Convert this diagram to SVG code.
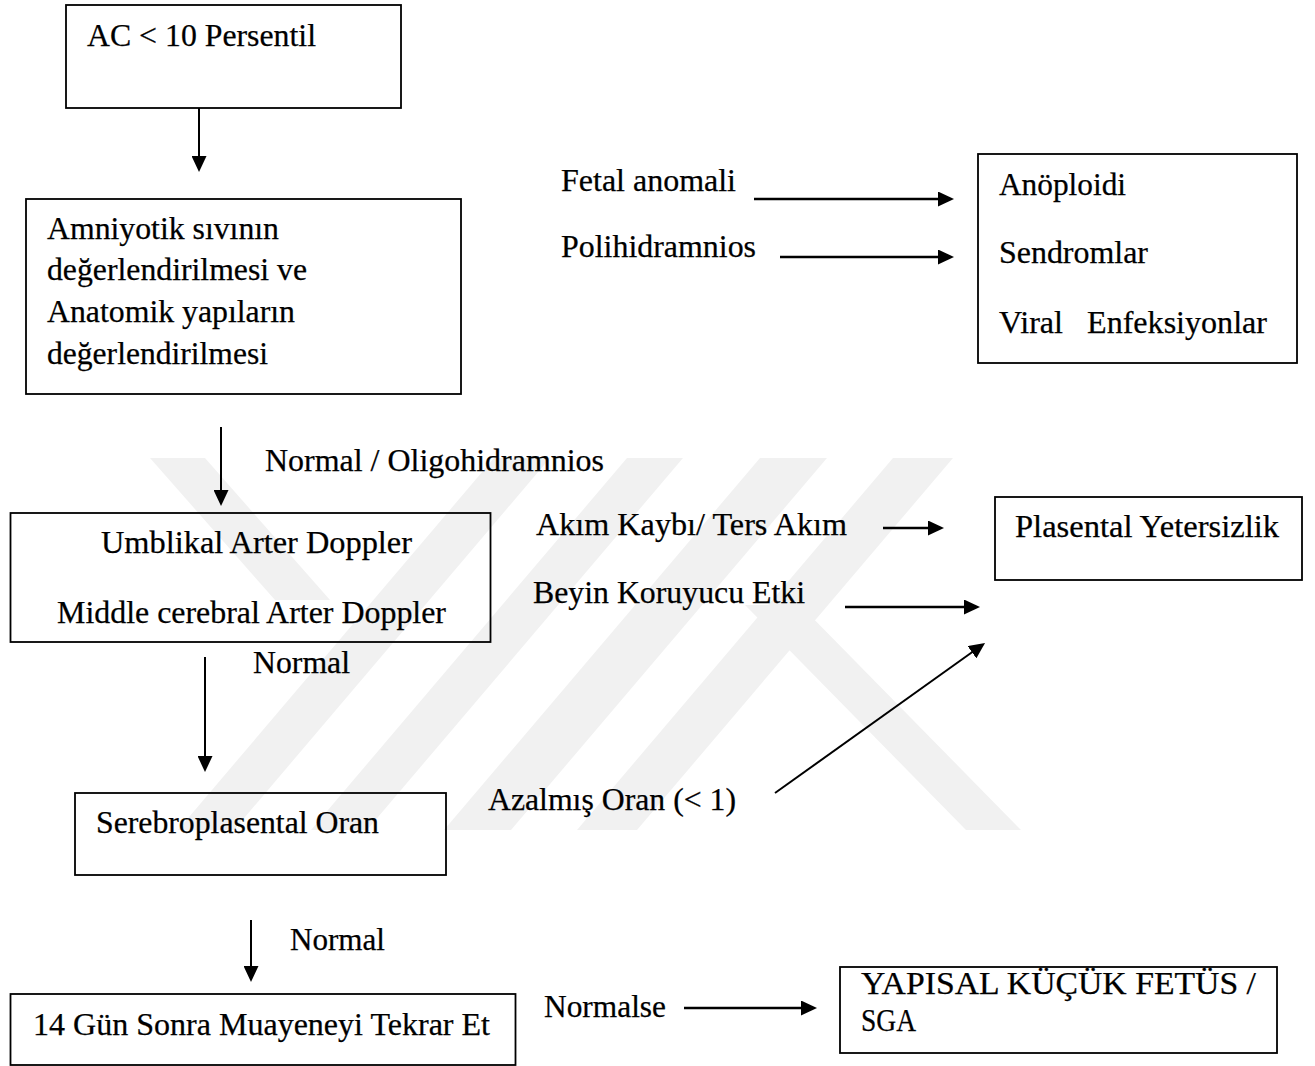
<svg xmlns="http://www.w3.org/2000/svg" width="1315" height="1066" viewBox="0 0 1315 1066">
<style>
  .box { fill: none; stroke: #000; stroke-width: 1.8; }
  .t { font-family: "Liberation Serif", "Times New Roman", Times, serif; font-size: 31px; fill: #000; stroke: #000; stroke-width: 0.25; }
  .c { stroke: #000; stroke-width: 2; fill: none; marker-end: url(#ah); }
  .ch { stroke: #000; stroke-width: 2.6; fill: none; marker-end: url(#ah); }
  .wm { fill: #f1f1f1; }
</style>
<defs>
  <marker id="ah" markerUnits="userSpaceOnUse" markerWidth="16" markerHeight="15" refX="6" refY="7.5" orient="auto">
    <path d="M0,0 L16,7.5 L0,15 Z" fill="#000"/>
  </marker>
</defs>
<rect width="1315" height="1066" fill="#fff"/>
<g id="watermark">
  <polygon class="wm" points="150,458 205,458 330,600 275,600"/>
  <polygon class="wm" points="178,830 234,830 550,458 494,458"/>
  <polygon class="wm" points="311,830 367,830 683,458 627,458"/>
  <polygon class="wm" points="444,830 511,830 827,458 760,458"/>
  <polygon class="wm" points="577,830 637,830 953,458 893,458"/>
  <polygon class="wm" points="745,605 800,605 1021,830 966,830"/>
</g>
<g id="connectors">
  <line class="c" x1="199" y1="108" x2="199" y2="162"/>
  <line class="ch" x1="754" y1="199" x2="944" y2="199"/>
  <line class="ch" x1="780" y1="257" x2="944" y2="257"/>
  <line class="c" x1="221" y1="427" x2="221" y2="496"/>
  <line class="ch" x1="883" y1="528" x2="934" y2="528"/>
  <line class="ch" x1="845" y1="607" x2="970" y2="607"/>
  <line class="c" x1="775" y1="793" x2="976.9" y2="648.8"/>
  <line class="c" x1="205" y1="657" x2="205" y2="762"/>
  <line class="c" x1="251" y1="920" x2="251" y2="972"/>
  <line class="ch" x1="684" y1="1008" x2="807" y2="1008"/>
</g>
<g id="labels">
  <text class="t" x="561" y="191" textLength="175" lengthAdjust="spacingAndGlyphs">Fetal anomali</text>
  <text class="t" x="561" y="257" textLength="195" lengthAdjust="spacingAndGlyphs">Polihidramnios</text>
  <text class="t" x="265" y="471" textLength="339" lengthAdjust="spacingAndGlyphs">Normal / Oligohidramnios</text>
  <text class="t" x="536" y="535" textLength="311" lengthAdjust="spacingAndGlyphs">Akım Kaybı/ Ters Akım</text>
  <text class="t" x="533" y="603" textLength="272" lengthAdjust="spacingAndGlyphs">Beyin Koruyucu Etki</text>
  <text class="t" x="253" y="673" textLength="97" lengthAdjust="spacingAndGlyphs">Normal</text>
  <text class="t" x="488" y="810" textLength="248" lengthAdjust="spacingAndGlyphs">Azalmış Oran (&lt; 1)</text>
  <text class="t" x="290" y="950" textLength="95" lengthAdjust="spacingAndGlyphs">Normal</text>
  <text class="t" x="544" y="1017" textLength="122" lengthAdjust="spacingAndGlyphs">Normalse</text>
</g>
<g id="node-ac">
  <rect class="box" x="66" y="5" width="335" height="103"/>
  <text class="t" x="87" y="46" textLength="229" lengthAdjust="spacingAndGlyphs">AC &lt; 10 Persentil</text>
</g>
<g id="node-amniyotik">
  <rect class="box" x="26" y="199" width="435" height="195"/>
  <text class="t" x="47" y="239" textLength="232" lengthAdjust="spacingAndGlyphs">Amniyotik sıvının</text>
  <text class="t" x="47" y="280" textLength="260" lengthAdjust="spacingAndGlyphs">değerlendirilmesi ve</text>
  <text class="t" x="47" y="322" textLength="248" lengthAdjust="spacingAndGlyphs">Anatomik yapıların</text>
  <text class="t" x="47" y="364" textLength="221" lengthAdjust="spacingAndGlyphs">değerlendirilmesi</text>
</g>
<g id="node-anomali">
  <rect class="box" x="978" y="154" width="319" height="209"/>
  <text class="t" x="999" y="195" textLength="127" lengthAdjust="spacingAndGlyphs">Anöploidi</text>
  <text class="t" x="999" y="263" textLength="149" lengthAdjust="spacingAndGlyphs">Sendromlar</text>
  <text class="t" x="999" y="333" textLength="268" lengthAdjust="spacingAndGlyphs" xml:space="preserve">Viral   Enfeksiyonlar</text>
</g>
<g id="node-doppler">
  <rect class="box" x="10.5" y="513" width="480" height="129"/>
  <text class="t" x="101" y="553" textLength="311" lengthAdjust="spacingAndGlyphs">Umblikal Arter Doppler</text>
  <text class="t" x="57" y="623" textLength="389" lengthAdjust="spacingAndGlyphs">Middle cerebral Arter Doppler</text>
</g>
<g id="node-plasental">
  <rect class="box" x="995" y="497" width="307" height="83"/>
  <text class="t" x="1015" y="537" textLength="264" lengthAdjust="spacingAndGlyphs">Plasental Yetersizlik</text>
</g>
<g id="node-serebro">
  <rect class="box" x="75" y="793" width="371" height="82"/>
  <text class="t" x="96" y="833" textLength="283" lengthAdjust="spacingAndGlyphs">Serebroplasental Oran</text>
</g>
<g id="node-tekrar">
  <rect class="box" x="10.5" y="994" width="505" height="71"/>
  <text class="t" x="33" y="1035" textLength="457" lengthAdjust="spacingAndGlyphs">14 Gün Sonra Muayeneyi Tekrar Et</text>
</g>
<g id="node-sga">
  <rect class="box" x="840" y="967" width="437" height="86"/>
  <text class="t" x="861" y="994" textLength="395" lengthAdjust="spacingAndGlyphs">YAPISAL KÜÇÜK FETÜS /</text>
  <text class="t" x="861" y="1031" textLength="55" lengthAdjust="spacingAndGlyphs">SGA</text>
</g>
</svg>
